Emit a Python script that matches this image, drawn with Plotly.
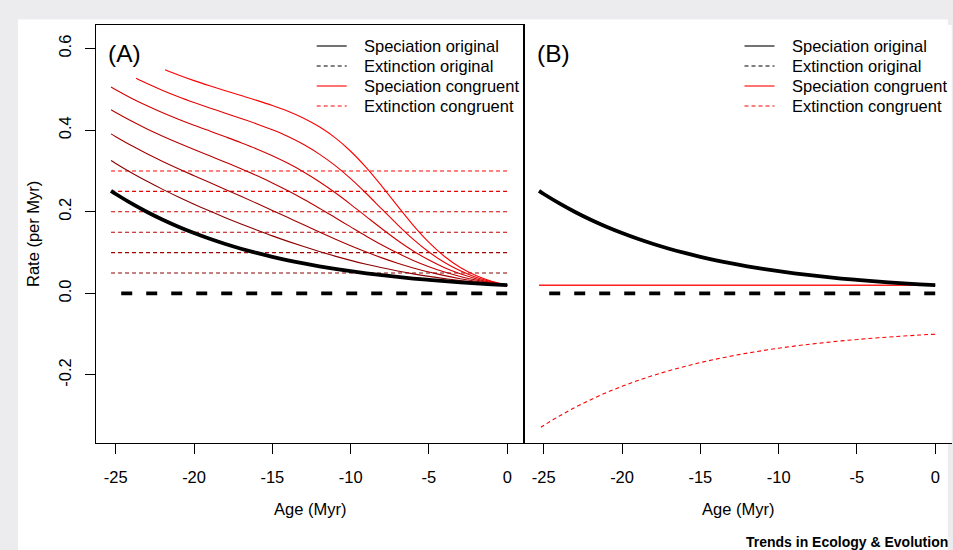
import plotly.graph_objects as go

# ---------------- data ----------------
age_full = [0, -1, -2, -3, -4, -5, -6, -7, -8, -9, -10, -11, -12, -13, -14, -15,
            -16, -17, -18, -19, -20, -21, -22, -23, -24, -25, -25.3]
spec_original = [0.0200, 0.0221, 0.0244, 0.0270, 0.0298, 0.0330, 0.0364, 0.0403, 0.0445,
                 0.0492, 0.0544, 0.0601, 0.0664, 0.0734, 0.0811, 0.0896, 0.0991, 0.1095,
                 0.1210, 0.1337, 0.1478, 0.1633, 0.1805, 0.1995, 0.2205, 0.2436, 0.2511]

ext_original_age = [-24.65, 0]
ext_original = [0.0, 0.0]

# Panel A: congruent speciation curves (one per congruent extinction level)
ext_levels = [0.05, 0.10, 0.15, 0.20, 0.25, 0.30]
ext_level_age = [-25.3, 0]

spec_c1 = [0.0200, 0.0232, 0.0269, 0.0312, 0.0361, 0.0416, 0.0478, 0.0549, 0.0627, 0.0714,
           0.0809, 0.0913, 0.1026, 0.1147, 0.1275, 0.1410, 0.1553, 0.1701, 0.1856, 0.2017,
           0.2186, 0.2363, 0.2549, 0.2747, 0.2958, 0.3185, 0.3258]
spec_c2 = [0.0200, 0.0244, 0.0297, 0.0360, 0.0435, 0.0523, 0.0624, 0.0740, 0.0870, 0.1014,
           0.1169, 0.1334, 0.1506, 0.1681, 0.1858, 0.2034, 0.2208, 0.2379, 0.2548, 0.2716,
           0.2884, 0.3056, 0.3235, 0.3423, 0.3623, 0.3840, 0.3909]
spec_c3 = [0.0200, 0.0256, 0.0327, 0.0416, 0.0524, 0.0655, 0.0809, 0.0987, 0.1186, 0.1402,
           0.1630, 0.1861, 0.2089, 0.2308, 0.2514, 0.2707, 0.2887, 0.3055, 0.3216, 0.3372,
           0.3528, 0.3687, 0.3854, 0.4031, 0.4223, 0.4432, 0.4500]
spec_c4 = [0.0200, 0.0269, 0.0361, 0.0479, 0.0630, 0.0816, 0.1040, 0.1298, 0.1583, 0.1882,
           0.2183, 0.2472, 0.2738, 0.2977, 0.3188, 0.3374, 0.3541, 0.3693, 0.3837, 0.3978,
           0.4120, 0.4269, 0.4427, 0.4598, 0.4785, 0.4991, 0.5059]
age_c5 = [0, -1, -2, -3, -4, -5, -6, -7, -8, -9, -10, -11, -12, -13, -14, -15,
          -16, -17, -18, -19, -20, -21, -22, -23, -23.7]
spec_c5 = [0.0200, 0.0283, 0.0397, 0.0552, 0.0755, 0.1013, 0.1324, 0.1681, 0.2063, 0.2448,
           0.2811, 0.3136, 0.3414, 0.3648, 0.3843, 0.4008, 0.4154, 0.4287, 0.4416, 0.4544,
           0.4678, 0.4820, 0.4974, 0.5142, 0.5272]
age_c6 = [0, -1, -2, -3, -4, -5, -6, -7, -8, -9, -10, -11, -12, -13, -14, -15,
          -16, -17, -18, -19, -20, -21, -21.85]
spec_c6 = [0.0200, 0.0297, 0.0438, 0.0635, 0.0904, 0.1250, 0.1669, 0.2139, 0.2623, 0.3082,
           0.3484, 0.3817, 0.4083, 0.4294, 0.4464, 0.4605, 0.4731, 0.4849, 0.4966, 0.5087,
           0.5215, 0.5354, 0.5484]

# Panel B: constant congruent speciation, time-varying congruent extinction
spec_b_age = [-25.3, 0]
spec_b = [0.02, 0.02]
ext_b = [-0.1000, -0.1021, -0.1044, -0.1070, -0.1098, -0.1130, -0.1164, -0.1203, -0.1245,
         -0.1292, -0.1344, -0.1401, -0.1464, -0.1534, -0.1611, -0.1696, -0.1791, -0.1895,
         -0.2010, -0.2137, -0.2278, -0.2433, -0.2605, -0.2795, -0.3005, -0.3236, -0.3311]

x_ticks = [-25, -20, -15, -10, -5, 0]
x_tick_text = ["-25", "-20", "-15", "-10", "-5", "0"]
y_ticks = [-0.2, 0.0, 0.2, 0.4, 0.6]
y_tick_text = ["-0.2", "0.0", "0.2", "0.4", "0.6"]

legend_labels = ["Speciation original", "Extinction original",
                 "Speciation congruent", "Extinction congruent"]

# ---------------- styling ----------------
W, H = 953, 550
FONT = "Liberation Sans, Arial, Helvetica, sans-serif"
reds = ["#8b0000", "#a20000", "#b90000", "#d10000", "#e80000", "#ff0000"]
THIN_DASH = "4px,3px"
THICK_DASH = "11px,14px"


def px(x):
    return x / W


def py(y):
    return 1 - y / H


fig = go.Figure()

# ---- Panel A ----
for lvl, col in zip(ext_levels, reds):
    fig.add_trace(go.Scatter(x=ext_level_age, y=[lvl, lvl], mode="lines",
                             line=dict(color=col, width=1.1, dash=THIN_DASH),
                             xaxis="x", yaxis="y", showlegend=False, hoverinfo="skip"))

curves = [(age_full, spec_c1), (age_full, spec_c2), (age_full, spec_c3),
          (age_full, spec_c4), (age_c5, spec_c5), (age_c6, spec_c6)]
for (ax, ay), col in zip(curves, reds):
    fig.add_trace(go.Scatter(x=ax, y=ay, mode="lines",
                             line=dict(color=col, width=1.1, shape="spline"),
                             xaxis="x", yaxis="y", showlegend=False, hoverinfo="skip"))

fig.add_trace(go.Scatter(x=age_full, y=spec_original, mode="lines",
                         line=dict(color="black", width=3.8, shape="spline"),
                         xaxis="x", yaxis="y", showlegend=False, hoverinfo="skip"))
fig.add_trace(go.Scatter(x=ext_original_age, y=ext_original, mode="lines",
                         line=dict(color="black", width=3.8, dash=THICK_DASH),
                         xaxis="x", yaxis="y", showlegend=False, hoverinfo="skip"))

# ---- Panel B ----
fig.add_trace(go.Scatter(x=spec_b_age, y=spec_b, mode="lines",
                         line=dict(color="#ff2020", width=1.4),
                         xaxis="x2", yaxis="y2", showlegend=False, hoverinfo="skip"))
fig.add_trace(go.Scatter(x=age_full, y=ext_b, mode="lines",
                         line=dict(color="#ff0000", width=1.1, dash=THIN_DASH, shape="spline"),
                         xaxis="x2", yaxis="y2", showlegend=False, hoverinfo="skip"))
fig.add_trace(go.Scatter(x=age_full, y=spec_original, mode="lines",
                         line=dict(color="black", width=3.8, shape="spline"),
                         xaxis="x2", yaxis="y2", showlegend=False, hoverinfo="skip"))
fig.add_trace(go.Scatter(x=ext_original_age, y=ext_original, mode="lines",
                         line=dict(color="black", width=3.8, dash=THICK_DASH),
                         xaxis="x2", yaxis="y2", showlegend=False, hoverinfo="skip"))

# ---- axes ----
XR = [-26.28, 1.05]
YR = [-0.3667, 0.6578]
ydom = [py(443), py(25)]
common_x = dict(range=XR, tickmode="array", tickvals=x_ticks, ticktext=x_tick_text,
                ticks="outside", ticklen=10, tickwidth=1, tickcolor="black",
                showline=True, linecolor="black", linewidth=1.3,
                showgrid=False, zeroline=False, ticklabelstandoff=9,
                tickfont=dict(size=16.5, color="black", family=FONT), fixedrange=True)

fig.update_layout(
    width=W, height=H,
    margin=dict(l=0, r=0, t=0, b=0),
    paper_bgcolor="#ececee",
    plot_bgcolor="white",
    font=dict(family=FONT, size=16.5, color="black"),
    xaxis=dict(common_x, domain=[px(95.7), px(523.7)], anchor="y", mirror=True),
    xaxis2=dict(common_x, domain=[px(523.7), px(951.7)], anchor="y2"),
    yaxis=dict(domain=ydom, range=YR, anchor="x", tickmode="array",
               tickvals=y_ticks, ticktext=y_tick_text, tickangle=-90,
               ticks="outside", ticklen=10, tickwidth=1, tickcolor="black",
               showline=True, linecolor="black", linewidth=1.3, mirror=True,
               showgrid=False, zeroline=False, ticklabelstandoff=7,
               tickfont=dict(size=16.5, color="black", family=FONT), fixedrange=True),
    yaxis2=dict(domain=ydom, range=YR, anchor="x2", showticklabels=False, ticks="",
                showline=True, linecolor="black", linewidth=1.3,
                showgrid=False, zeroline=False, fixedrange=True),
    showlegend=False,
)

# white page area inside the grey frame
fig.add_shape(type="rect", xref="paper", yref="paper",
              x0=px(18), x1=px(948), y0=0, y1=py(19.5),
              fillcolor="white", line=dict(width=0), layer="below")

# ---- legends (drawn as keys + labels) ----
legend_styles = [("black", None), ("black", THIN_DASH), ("#ff0000", None), ("#ff0000", THIN_DASH)]
rows_y = [46, 66, 86, 106]
for (kx0, kx1, tx) in [(316.7, 346.7, 361.5), (744.5, 774.5, 790)]:
    for lab, (col, dash), ry in zip(legend_labels, legend_styles, rows_y):
        fig.add_shape(type="line", xref="paper", yref="paper",
                      x0=px(kx0), x1=px(kx1), y0=py(ry), y1=py(ry),
                      line=dict(color=col, width=1.1, dash=dash))
        fig.add_annotation(xref="paper", yref="paper", x=px(tx), y=py(ry),
                           xanchor="left", yanchor="middle", text=lab, showarrow=False,
                           font=dict(size=16.5, color="black", family=FONT))

# panel labels
fig.add_annotation(xref="paper", yref="paper", x=px(124.7), y=py(53.3), text="(A)",
                   showarrow=False, xanchor="center", yanchor="middle",
                   font=dict(size=24.5, color="black", family=FONT))
fig.add_annotation(xref="paper", yref="paper", x=px(553), y=py(53.3), text="(B)",
                   showarrow=False, xanchor="center", yanchor="middle",
                   font=dict(size=24.5, color="black", family=FONT))

# axis titles
fig.add_annotation(xref="paper", yref="paper", x=px(33), y=py(234), text="Rate (per Myr)",
                   textangle=-90, showarrow=False, xanchor="center", yanchor="middle",
                   font=dict(size=16.5, color="black", family=FONT))
for cx in [309.7, 737.7]:
    fig.add_annotation(xref="paper", yref="paper", x=px(cx), y=py(509), text="Age (Myr)",
                       showarrow=False, xanchor="center", yanchor="middle",
                       font=dict(size=16.5, color="black", family=FONT))

# journal footer
fig.add_annotation(xref="paper", yref="paper", x=px(950), y=py(541.5),
                   text="<b>Trends in Ecology &amp; Evolution</b>", showarrow=False,
                   xanchor="right", yanchor="middle",
                   font=dict(size=14, color="black", family=FONT))

fig.write_html("out.html", config={"displayModeBar": False},
               post_script="document.body.style.margin='0px';document.body.style.overflow='hidden';")
